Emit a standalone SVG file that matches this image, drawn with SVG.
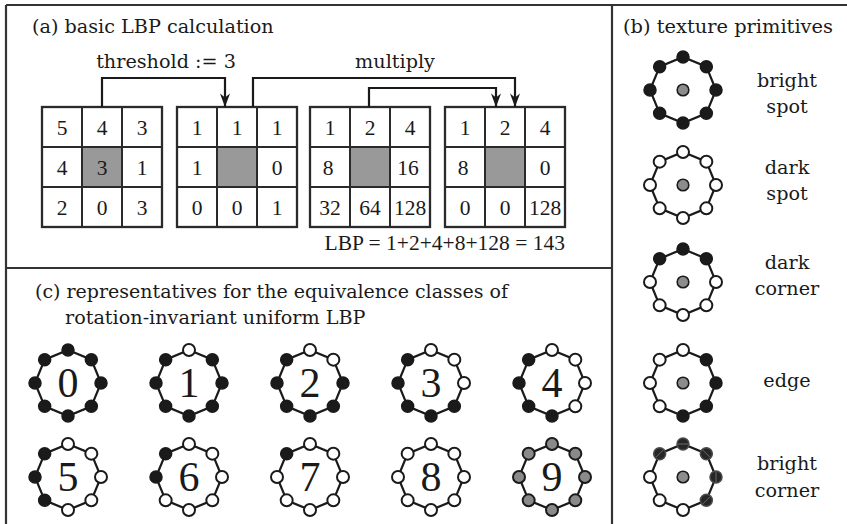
<svg xmlns="http://www.w3.org/2000/svg" width="847" height="524" viewBox="0 0 847 524">
  <style>
    .t { font-family: "DejaVu Serif", serif; font-size: 19.2px; fill: #1a1a1a; }
    .n { font-family: "Liberation Serif", serif; font-size: 21.5px; fill: #1a1a1a; text-anchor: middle; }
    .big { font-family: "Liberation Serif", serif; font-size: 42px; fill: #1a1a1a; text-anchor: middle; }
    .frame { fill: none; stroke: #333; stroke-width: 2.2; }
    .cellbox { fill: #fff; stroke: #2a2a2a; stroke-width: 2.3; }
    .cline { stroke: #2a2a2a; stroke-width: 2; }
    .mid { fill: #999; }
    .wire { fill: none; stroke: #1a1a1a; stroke-width: 2.2; }
    .ring { fill: none; stroke: #1a1a1a; stroke-width: 2.2; }
    .b { fill: #1a1a1a; stroke: #1a1a1a; stroke-width: 1.5; }
    .w { fill: #fff; stroke: #1a1a1a; stroke-width: 2; }
    .g { fill: #8a8a8a; stroke: #1a1a1a; stroke-width: 2; }
    .h { fill: #262626; stroke: #4a4a4a; stroke-width: 1.5; }
    .hl { stroke: #6a6a6a; stroke-width: 1; }
  </style>
  <defs>
    <marker id="arrow" viewBox="-14 -6 15 12" refX="0" refY="0" markerWidth="15" markerHeight="12" markerUnits="userSpaceOnUse" orient="auto">
      <path d="M0,0 L-13.5,-5 L-9.5,0 L-13.5,5 Z" fill="#1a1a1a"/>
    </marker>
    <polygon id="ring" class="ring" points="0,-33 23.33,-23.33 33,0 23.33,23.33 0,33 -23.33,23.33 -33,0 -23.33,-23.33"/>
    <circle id="centre" r="5.8" fill="#8c8c8c" stroke="#1a1a1a" stroke-width="1.6"/>
  </defs>

  <rect width="847" height="524" fill="#fff"/>

  <!-- panel frame -->
  <g id="frame" class="frame">
    <path d="M6,5 H847 M6,5 V524 M612,5 V524 M6,268 H612"/>
  </g>

  <!-- (a) basic LBP calculation -->
  <text class="t" x="32" y="33">(a) basic LBP calculation</text>
  <text class="t" x="166" y="68" text-anchor="middle">threshold := 3</text>
  <text class="t" x="395" y="68" text-anchor="middle">multiply</text>

  <g id="grid-input" transform="translate(42,107)">
    <rect class="cellbox" width="120" height="120"/>
    <rect class="mid" x="40" y="40" width="40" height="40"/>
    <path class="cline" d="M40,0 V120 M80,0 V120 M0,40 H120 M0,80 H120"/>
    <text class="n" x="20" y="27.5">5</text><text class="n" x="60" y="27.5">4</text><text class="n" x="100" y="27.5">3</text>
    <text class="n" x="20" y="67.5">4</text><text class="n" x="60" y="67.5" fill="#3a3a3a">3</text><text class="n" x="100" y="67.5">1</text>
    <text class="n" x="20" y="107.5">2</text><text class="n" x="60" y="107.5">0</text><text class="n" x="100" y="107.5">3</text>
  </g>

  <g id="grid-threshold" transform="translate(177,107)">
    <rect class="cellbox" width="120" height="120"/>
    <rect class="mid" x="40" y="40" width="40" height="40"/>
    <path class="cline" d="M40,0 V120 M80,0 V120 M0,40 H120 M0,80 H120"/>
    <text class="n" x="20" y="27.5">1</text><text class="n" x="60" y="27.5">1</text><text class="n" x="100" y="27.5">1</text>
    <text class="n" x="20" y="67.5">1</text><text class="n" x="100" y="67.5">0</text>
    <text class="n" x="20" y="107.5">0</text><text class="n" x="60" y="107.5">0</text><text class="n" x="100" y="107.5">1</text>
  </g>

  <g id="grid-weights" transform="translate(310,107)">
    <rect class="cellbox" width="120" height="120"/>
    <rect class="mid" x="40" y="40" width="40" height="40"/>
    <path class="cline" d="M40,0 V120 M80,0 V120 M0,40 H120 M0,80 H120"/>
    <text class="n" x="20" y="27.5">1</text><text class="n" x="60" y="27.5">2</text><text class="n" x="100" y="27.5">4</text>
    <text class="n" x="18" y="67.5">8</text><text class="n" x="98" y="67.5">16</text>
    <text class="n" x="20" y="107.5">32</text><text class="n" x="60" y="107.5">64</text><text class="n" x="100" y="107.5">128</text>
  </g>

  <g id="grid-product" transform="translate(445,107)">
    <rect class="cellbox" width="120" height="120"/>
    <rect class="mid" x="40" y="40" width="40" height="40"/>
    <path class="cline" d="M40,0 V120 M80,0 V120 M0,40 H120 M0,80 H120"/>
    <text class="n" x="20" y="27.5">1</text><text class="n" x="60" y="27.5">2</text><text class="n" x="100" y="27.5">4</text>
    <text class="n" x="18" y="67.5">8</text><text class="n" x="100" y="67.5">0</text>
    <text class="n" x="20" y="107.5">0</text><text class="n" x="60" y="107.5">0</text><text class="n" x="100" y="107.5">128</text>
  </g>

  <text id="lbp-sum" x="565" y="250" class="n" style="text-anchor:end" font-size="22">LBP = 1+2+4+8+128 = 143</text>

  <g id="connectors" class="wire">
    <path d="M102,107 V78 H225 V107" marker-end="url(#arrow)"/>
    <path d="M253,107 V78 H515 V107" marker-end="url(#arrow)"/>
    <path d="M369,107 V88 H496 V107" marker-end="url(#arrow)"/>
  </g>

  <!-- (b) texture primitives -->
  <text class="t" x="623" y="33" textLength="210" lengthAdjust="spacingAndGlyphs">(b) texture primitives</text>

  <g id="bright-spot" transform="translate(683,90)">
    <use href="#ring"/>
    <circle class="b" cx="0" cy="-33" r="6"/><circle class="b" cx="23.33" cy="-23.33" r="6"/>
    <circle class="b" cx="33" cy="0" r="6"/><circle class="b" cx="23.33" cy="23.33" r="6"/>
    <circle class="b" cx="0" cy="33" r="6"/><circle class="b" cx="-23.33" cy="23.33" r="6"/>
    <circle class="b" cx="-33" cy="0" r="6"/><circle class="b" cx="-23.33" cy="-23.33" r="6"/>
    <use href="#centre"/>
    <text class="t" x="104" y="-3" text-anchor="middle">bright</text>
    <text class="t" x="104" y="23" text-anchor="middle">spot</text>
  </g>

  <g id="dark-spot" transform="translate(683,185)">
    <use href="#ring"/>
    <circle class="w" cx="0" cy="-33" r="6"/><circle class="w" cx="23.33" cy="-23.33" r="6"/>
    <circle class="w" cx="33" cy="0" r="6"/><circle class="w" cx="23.33" cy="23.33" r="6"/>
    <circle class="w" cx="0" cy="33" r="6"/><circle class="w" cx="-23.33" cy="23.33" r="6"/>
    <circle class="w" cx="-33" cy="0" r="6"/><circle class="w" cx="-23.33" cy="-23.33" r="6"/>
    <use href="#centre"/>
    <text class="t" x="104" y="-11" text-anchor="middle">dark</text>
    <text class="t" x="104" y="15" text-anchor="middle">spot</text>
  </g>

  <g id="dark-corner" transform="translate(683,282)">
    <use href="#ring"/>
    <circle class="b" cx="0" cy="-33" r="6"/><circle class="b" cx="23.33" cy="-23.33" r="6"/>
    <circle class="w" cx="33" cy="0" r="6"/><circle class="w" cx="23.33" cy="23.33" r="6"/>
    <circle class="w" cx="0" cy="33" r="6"/><circle class="w" cx="-23.33" cy="23.33" r="6"/>
    <circle class="w" cx="-33" cy="0" r="6"/><circle class="b" cx="-23.33" cy="-23.33" r="6"/>
    <use href="#centre"/>
    <text class="t" x="104" y="-13" text-anchor="middle">dark</text>
    <text class="t" x="104" y="13" text-anchor="middle">corner</text>
  </g>

  <g id="edge" transform="translate(683,383)">
    <use href="#ring"/>
    <circle class="w" cx="0" cy="-33" r="6"/><circle class="b" cx="23.33" cy="-23.33" r="6"/>
    <circle class="b" cx="33" cy="0" r="6"/><circle class="b" cx="23.33" cy="23.33" r="6"/>
    <circle class="b" cx="0" cy="33" r="6"/><circle class="w" cx="-23.33" cy="23.33" r="6"/>
    <circle class="w" cx="-33" cy="0" r="6"/><circle class="w" cx="-23.33" cy="-23.33" r="6"/>
    <use href="#centre"/>
    <text class="t" x="104" y="4" text-anchor="middle">edge</text>
  </g>

  <g id="bright-corner" transform="translate(683,477)">
    <use href="#ring"/>
    <circle class="h" cx="0" cy="-33" r="6"/><line class="hl" x1="-5" y1="-33" x2="5" y2="-33"/>
    <circle class="h" cx="23.33" cy="-23.33" r="6"/><line class="hl" x1="19.8" y1="-26.9" x2="26.9" y2="-19.8"/>
    <circle class="h" cx="33" cy="0" r="6"/><line class="hl" x1="33" y1="-5" x2="33" y2="5"/>
    <circle class="h" cx="23.33" cy="23.33" r="6"/><line class="hl" x1="19.8" y1="26.9" x2="26.9" y2="19.8"/>
    <circle class="w" cx="0" cy="33" r="6"/><circle class="w" cx="-23.33" cy="23.33" r="6"/>
    <circle class="w" cx="-33" cy="0" r="6"/>
    <circle class="h" cx="-23.33" cy="-23.33" r="6"/><line class="hl" x1="-26.9" y1="-19.8" x2="-19.8" y2="-26.9"/>
    <use href="#centre"/>
    <text class="t" x="104" y="-7" text-anchor="middle">bright</text>
    <text class="t" x="104" y="20" text-anchor="middle">corner</text>
  </g>

  <!-- (c) rotation-invariant uniform classes -->
  <text class="t" x="35" y="298" textLength="473" lengthAdjust="spacingAndGlyphs">(c) representatives for the equivalence classes of</text>
  <text class="t" x="65" y="324">rotation-invariant uniform LBP</text>

  <g id="class-0" transform="translate(68,383)">
    <use href="#ring"/>
    <circle class="b" cx="0" cy="-33" r="6"/><circle class="b" cx="23.33" cy="-23.33" r="6"/>
    <circle class="b" cx="33" cy="0" r="6"/><circle class="b" cx="23.33" cy="23.33" r="6"/>
    <circle class="b" cx="0" cy="33" r="6"/><circle class="b" cx="-23.33" cy="23.33" r="6"/>
    <circle class="b" cx="-33" cy="0" r="6"/><circle class="b" cx="-23.33" cy="-23.33" r="6"/>
    <text class="big" x="0" y="14">0</text>
  </g>

  <g id="class-1" transform="translate(189,383)">
    <use href="#ring"/>
    <circle class="w" cx="0" cy="-33" r="6"/><circle class="b" cx="23.33" cy="-23.33" r="6"/>
    <circle class="b" cx="33" cy="0" r="6"/><circle class="b" cx="23.33" cy="23.33" r="6"/>
    <circle class="b" cx="0" cy="33" r="6"/><circle class="b" cx="-23.33" cy="23.33" r="6"/>
    <circle class="b" cx="-33" cy="0" r="6"/><circle class="b" cx="-23.33" cy="-23.33" r="6"/>
    <text class="big" x="0" y="14">1</text>
  </g>

  <g id="class-2" transform="translate(310,383)">
    <use href="#ring"/>
    <circle class="w" cx="0" cy="-33" r="6"/><circle class="w" cx="23.33" cy="-23.33" r="6"/>
    <circle class="b" cx="33" cy="0" r="6"/><circle class="b" cx="23.33" cy="23.33" r="6"/>
    <circle class="b" cx="0" cy="33" r="6"/><circle class="b" cx="-23.33" cy="23.33" r="6"/>
    <circle class="b" cx="-33" cy="0" r="6"/><circle class="b" cx="-23.33" cy="-23.33" r="6"/>
    <text class="big" x="0" y="14">2</text>
  </g>

  <g id="class-3" transform="translate(431,383)">
    <use href="#ring"/>
    <circle class="w" cx="0" cy="-33" r="6"/><circle class="w" cx="23.33" cy="-23.33" r="6"/>
    <circle class="w" cx="33" cy="0" r="6"/><circle class="b" cx="23.33" cy="23.33" r="6"/>
    <circle class="b" cx="0" cy="33" r="6"/><circle class="b" cx="-23.33" cy="23.33" r="6"/>
    <circle class="b" cx="-33" cy="0" r="6"/><circle class="b" cx="-23.33" cy="-23.33" r="6"/>
    <text class="big" x="0" y="14">3</text>
  </g>

  <g id="class-4" transform="translate(552,383)">
    <use href="#ring"/>
    <circle class="w" cx="0" cy="-33" r="6"/><circle class="w" cx="23.33" cy="-23.33" r="6"/>
    <circle class="w" cx="33" cy="0" r="6"/><circle class="w" cx="23.33" cy="23.33" r="6"/>
    <circle class="b" cx="0" cy="33" r="6"/><circle class="b" cx="-23.33" cy="23.33" r="6"/>
    <circle class="b" cx="-33" cy="0" r="6"/><circle class="b" cx="-23.33" cy="-23.33" r="6"/>
    <text class="big" x="0" y="14">4</text>
  </g>

  <g id="class-5" transform="translate(68,477)">
    <use href="#ring"/>
    <circle class="w" cx="0" cy="-33" r="6"/><circle class="w" cx="23.33" cy="-23.33" r="6"/>
    <circle class="w" cx="33" cy="0" r="6"/><circle class="w" cx="23.33" cy="23.33" r="6"/>
    <circle class="w" cx="0" cy="33" r="6"/><circle class="b" cx="-23.33" cy="23.33" r="6"/>
    <circle class="b" cx="-33" cy="0" r="6"/><circle class="b" cx="-23.33" cy="-23.33" r="6"/>
    <text class="big" x="0" y="14">5</text>
  </g>

  <g id="class-6" transform="translate(189,477)">
    <use href="#ring"/>
    <circle class="w" cx="0" cy="-33" r="6"/><circle class="w" cx="23.33" cy="-23.33" r="6"/>
    <circle class="w" cx="33" cy="0" r="6"/><circle class="w" cx="23.33" cy="23.33" r="6"/>
    <circle class="w" cx="0" cy="33" r="6"/><circle class="w" cx="-23.33" cy="23.33" r="6"/>
    <circle class="b" cx="-33" cy="0" r="6"/><circle class="b" cx="-23.33" cy="-23.33" r="6"/>
    <text class="big" x="0" y="14">6</text>
  </g>

  <g id="class-7" transform="translate(310,477)">
    <use href="#ring"/>
    <circle class="w" cx="0" cy="-33" r="6"/><circle class="w" cx="23.33" cy="-23.33" r="6"/>
    <circle class="w" cx="33" cy="0" r="6"/><circle class="w" cx="23.33" cy="23.33" r="6"/>
    <circle class="w" cx="0" cy="33" r="6"/><circle class="w" cx="-23.33" cy="23.33" r="6"/>
    <circle class="w" cx="-33" cy="0" r="6"/><circle class="b" cx="-23.33" cy="-23.33" r="6"/>
    <text class="big" x="0" y="14">7</text>
  </g>

  <g id="class-8" transform="translate(431,477)">
    <use href="#ring"/>
    <circle class="w" cx="0" cy="-33" r="6"/><circle class="w" cx="23.33" cy="-23.33" r="6"/>
    <circle class="w" cx="33" cy="0" r="6"/><circle class="w" cx="23.33" cy="23.33" r="6"/>
    <circle class="w" cx="0" cy="33" r="6"/><circle class="w" cx="-23.33" cy="23.33" r="6"/>
    <circle class="w" cx="-33" cy="0" r="6"/><circle class="w" cx="-23.33" cy="-23.33" r="6"/>
    <text class="big" x="0" y="14">8</text>
  </g>

  <g id="class-9" transform="translate(552,477)">
    <use href="#ring"/>
    <circle class="g" cx="0" cy="-33" r="6"/><circle class="g" cx="23.33" cy="-23.33" r="6"/>
    <circle class="g" cx="33" cy="0" r="6"/><circle class="g" cx="23.33" cy="23.33" r="6"/>
    <circle class="g" cx="0" cy="33" r="6"/><circle class="g" cx="-23.33" cy="23.33" r="6"/>
    <circle class="g" cx="-33" cy="0" r="6"/><circle class="g" cx="-23.33" cy="-23.33" r="6"/>
    <text class="big" x="0" y="14">9</text>
  </g>
</svg>
